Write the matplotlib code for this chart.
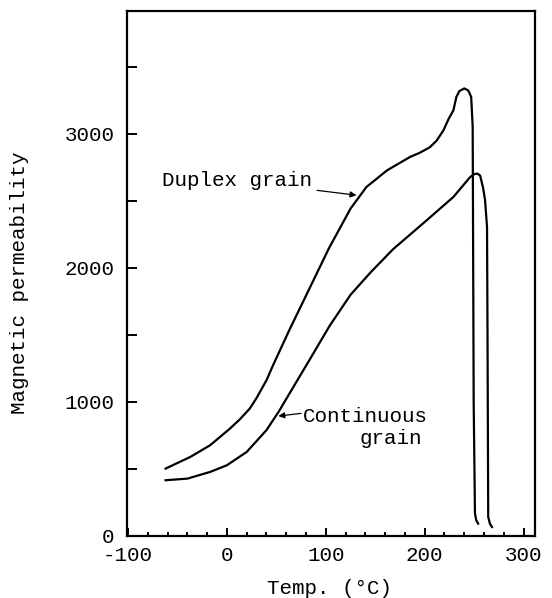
import matplotlib
matplotlib.use("Agg")
import matplotlib.pyplot as plt
from matplotlib.ticker import MultipleLocator

plt.rcParams['font.family'] = ['Liberation Mono', 'DejaVu Sans Mono']
plt.rcParams['axes.unicode_minus'] = False

# values (temperature in degC, permeability)
duplex_t = [-62, -37, -17, 3, 13, 23, 30, 40, 47, 63, 81, 103, 125, 141, 162,
            185, 195, 205, 212, 219, 224, 229, 232, 235, 240, 244, 247, 248.5,
            249.5, 250.8, 252, 254]
duplex_mu = [503, 590, 677, 801, 870, 950, 1030, 1162, 1280, 1535, 1809, 2145,
             2443, 2604, 2729, 2828, 2860, 2900, 2950, 3028, 3110, 3177, 3276,
             3320, 3340, 3325, 3276, 3052, 1000, 169, 120, 92]

cont_t = [-62, -40, -17, 0, 20, 40, 53, 63, 84, 104, 125, 145, 168, 202,
          229, 246, 250, 253, 256, 259, 261, 263, 263.5, 264.2, 266, 268]
cont_mu = [416, 428, 478, 528, 627, 790, 935, 1060, 1320, 1570, 1800, 1965,
           2140, 2356, 2530, 2679, 2700, 2705, 2690, 2600, 2505, 2306, 1500,
           142, 90, 67]

x_ticks = [-100, 0, 100, 200, 300]
y_ticks = [0, 1000, 2000, 3000]

fig = plt.figure(figsize=(5.52, 5.98), dpi=100)
ax = fig.add_axes([0.2301, 0.1037, 0.7382, 0.8784])

ax.plot(duplex_t, duplex_mu, color='black', lw=1.6, solid_joinstyle='round')
ax.plot(cont_t, cont_mu, color='black', lw=1.6, solid_joinstyle='round')

ax.set_xlim(-101, 311)
ax.set_ylim(0, 3920)
ax.set_xticks(x_ticks)
ax.set_yticks(y_ticks)
ax.xaxis.set_minor_locator(MultipleLocator(20))
ax.yaxis.set_minor_locator(MultipleLocator(500))
ax.tick_params(which='both', direction='in', width=1.4, labelsize=15)
ax.tick_params(axis='x', which='major', length=6, pad=7)
ax.tick_params(axis='x', which='minor', length=3)
ax.tick_params(axis='y', which='both', length=7, pad=9)
for s in ax.spines.values():
    s.set_linewidth(1.6)

ax.set_xlabel('Temp. (°C)', fontsize=15)
ax.xaxis.set_label_coords(0.496, -0.0996)
ax.xaxis.label.set_verticalalignment('center')
ax.set_ylabel('Magnetic permeability', fontsize=15)
ax.yaxis.set_label_coords(-0.263, 0.4826)
ax.yaxis.label.set_verticalalignment('center')

ax.annotate('Duplex grain', xy=(131, 2543), xytext=(-66, 2654),
            fontsize=15, va='center', ha='left',
            arrowprops=dict(arrowstyle='-|>', color='black', lw=0.9,
                            shrinkA=2, shrinkB=0, mutation_scale=9))
ax.annotate('', xy=(52, 895), xytext=(75, 915),
            arrowprops=dict(arrowstyle='-|>', color='black', lw=0.9,
                            shrinkA=0, shrinkB=0, mutation_scale=9))
ax.text(77, 895, 'Continuous', fontsize=15, va='center', ha='left')
ax.text(134, 730, 'grain', fontsize=15, va='center', ha='left')

fig.savefig('out.png', dpi=100)
